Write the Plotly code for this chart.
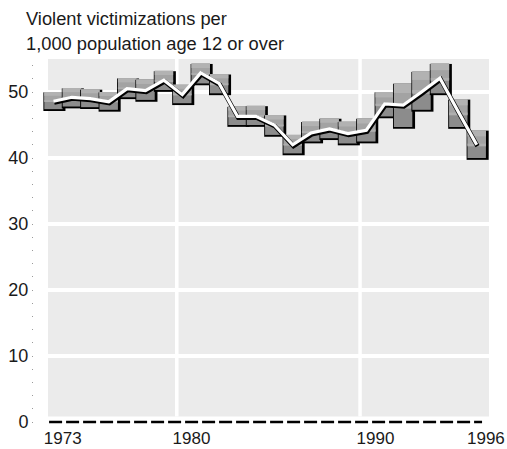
import plotly.graph_objects as go

# Violent victimization rate per 1,000 residents age 12+, with interval bounds
years = list(range(1973, 1997))
rate = [48.6, 49.2, 49.0, 48.5, 50.5, 50.2, 51.8, 49.6, 52.9, 51.3, 46.3, 46.3,
        45.0, 42.0, 43.8, 44.4, 43.7, 44.2, 48.2, 48.0, 50.0, 52.1, 47.0, 42.0]
low = [47.4, 47.8, 47.7, 47.3, 49.2, 48.8, 50.3, 48.3, 51.3, 49.8, 45.0, 45.0,
       43.5, 40.7, 42.5, 43.0, 42.2, 42.5, 46.3, 44.7, 47.3, 49.8, 44.7, 40.0]
high = [50.0, 50.6, 50.4, 50.0, 52.1, 51.9, 53.2, 51.1, 54.3, 52.7, 47.8, 47.9,
        46.5, 43.5, 45.5, 46.0, 45.5, 46.0, 50.0, 51.3, 53.1, 54.3, 48.9, 44.2]

x_tick_years = [1973, 1980, 1990, 1996]
x_tick_text = ["1973", "1980", "1990", "1996"]
y_tick_vals = [0, 10, 20, 30, 40, 50]
y_tick_text = ["0", "10", "20", "30", "40", "50"]

FONT = "Liberation Sans, Arial, sans-serif"
PANEL = "#ebebeb"

W, H = 507, 449
ML, MR, MT, MB = 34, 12, 59, 23
XR = [1971.94, 1996.994]
YR = [-0.606, 55]

shapes = []

# panel background
x_left, x_right = 1972.70, 1996.67
shapes.append(dict(type="rect", xref="x", yref="y", x0=x_left, x1=x_right,
                   y0=0.85, y1=55, fillcolor=PANEL, line_width=0, layer="below"))

# white grid
for v in [10, 20, 30, 40, 50]:
    shapes.append(dict(type="line", xref="x", yref="y", x0=x_left, x1=x_right,
                       y0=v, y1=v, line=dict(color="white", width=4), layer="below"))
for gx in [1979.70, 1989.66]:
    shapes.append(dict(type="line", xref="x", yref="y", x0=gx, x1=gx,
                       y0=0.85, y1=55, line=dict(color="white", width=3.5), layer="below"))

# interval boxes: black drop shadow, then shaded gray block
for yr, lo, hi in zip(years, low, high):
    x0, x1 = yr - 0.5, yr + 0.5
    shapes.append(dict(type="rect", xref="x", yref="y", x0=x0 - 0.05, x1=x1 + 0.15,
                       y0=lo - 0.28, y1=hi - 0.05, fillcolor="black", line_width=0,
                       layer="below"))
    span = hi - lo
    shapes.append(dict(type="rect", xref="x", yref="y", x0=x0, x1=x1,
                       y0=lo, y1=hi, fillcolor="#8c8c8c", line_width=0, layer="below"))
    shapes.append(dict(type="rect", xref="x", yref="y", x0=x0, x1=x1,
                       y0=lo + 0.45 * span, y1=hi, fillcolor="#a3a3a3", line_width=0,
                       layer="below"))
    shapes.append(dict(type="rect", xref="x", yref="y", x0=x0, x1=x1,
                       y0=hi - 0.22 * span, y1=hi, fillcolor="#b2b2b2", line_width=0,
                       layer="below"))
    shapes.append(dict(type="rect", xref="x", yref="y", x0=x0, x1=x1,
                       y0=lo + 0.42 * span, y1=lo + 0.52 * span, fillcolor="#afafaf",
                       line_width=0, layer="below"))

# dashed baseline at zero
shapes.append(dict(type="line", xref="x", yref="y", x0=1972.76, x1=1996.29, y0=0, y1=0,
                   line=dict(color="black", width=2.5, dash="13px,4px")))

fig = go.Figure()

# dark outline under the rate line
fig.add_trace(go.Scatter(
    x=[y + 0.04 for y in years], y=[r - 0.2 for r in rate], mode="lines",
    line=dict(color="black", width=4.5), hoverinfo="skip", showlegend=False))
fig.add_trace(go.Scatter(
    x=years, y=rate, mode="lines",
    line=dict(color="white", width=3.2), showlegend=False))

TITLE_X = (27 - ML) / (W - ML - MR)

fig.update_layout(
    width=W, height=H,
    margin=dict(l=ML, r=MR, t=MT, b=MB, pad=0, autoexpand=False),
    paper_bgcolor="white", plot_bgcolor="white",
    font=dict(family=FONT, size=18, color="#1a1a1a"),
    shapes=shapes,
    showlegend=False,
    xaxis=dict(range=XR, showgrid=False, zeroline=False, showline=False,
               automargin=False, fixedrange=True,
               tickmode="array", tickvals=[y + 0.5 for y in x_tick_years],
               ticktext=x_tick_text, ticks="", tickfont=dict(size=17)),
    yaxis=dict(range=YR, showgrid=False, zeroline=False, showline=False,
               automargin=False, fixedrange=True,
               tickmode="array", tickvals=y_tick_vals, ticktext=y_tick_text,
               ticks="outside", ticklen=1, tickwidth=1, tickcolor="#9a9a9a",
               tickfont=dict(size=18),
               minor=dict(tickmode="linear", dtick=2, tick0=0, ticks="outside",
                          ticklen=1, tickwidth=1, tickcolor="#9a9a9a")),
    annotations=[
        dict(text="Violent victimizations per", xref="paper", yref="paper",
             x=TITLE_X, y=1 + (MT - 18) / (H - MT - MB),
             xanchor="left", yanchor="middle", showarrow=False, xshift=-3,
             font=dict(size=18.3, family=FONT, color="#1a1a1a")),
        dict(text="1,000 population age 12 or over", xref="paper", yref="paper",
             x=TITLE_X, y=1 + (MT - 43) / (H - MT - MB),
             xanchor="left", yanchor="middle", showarrow=False, xshift=-3,
             font=dict(size=18.3, family=FONT, color="#1a1a1a")),
    ],
)

fig.write_html("out.html")
